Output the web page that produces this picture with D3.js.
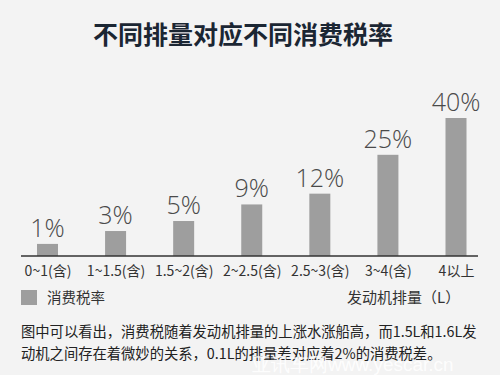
<!DOCTYPE html>
<html>
<head>
<meta charset="utf-8">
<script src="https://cdn.jsdelivr.net/npm/d3@7"></script>
<style>
  html, body { margin: 0; padding: 0; background: #f3f3f3; }
  svg { display: block; }
</style>
</head>
<body>
<div class="container"></div>
<script>
var categories = ['0~1(含)', '1~1.5(含)', '1.5~2(含)', '2~2.5(含)', '2.5~3(含)', '3~4(含)', '4以上'];
var rates = [1, 3, 5, 9, 12, 25, 40];
var title = '不同排量对应不同消费税率';
var legendName = '消费税率';
var xName = '发动机排量（L）';
var notes = ['图中可以看出，消费税随着发动机排量的上涨水涨船高，而1.5L和1.6L发',
             '动机之间存在着微妙的关系，0.1L的排量差对应着2%的消费税差。'];

var w = 500,
h = 375,
base = 256,
bar_w = 21;

var cjk = '"Noto Sans CJK SC", "Noto Sans", sans-serif';

var svg = d3.select('.container')
.append('svg')
.attr('width', w)
.attr('height', h);

svg.append('rect')
.attr('width', w)
.attr('height', h)
.style('fill', '#f3f3f3');

svg.append('text')
.attr('x', 243)
.attr('y', 44)
.attr('text-anchor', 'middle')
.style('font-family', cjk)
.style('font-weight', 'bold')
.style('font-size', '25px')
.style('fill', '#1b2633')
.text(title);

var xScale = d3.scalePoint()
.domain(categories)
.range([47.5, 456]);

// bar heights in the picture are not proportional, a pow scale fits them
var hScale = d3.scalePow()
.exponent(0.66)
.domain([0, 40])
.range([0, 138]);

svg.selectAll('rect.bar')
.data(rates)
.enter()
.append('rect')
.attr('class', 'bar')
.attr('x', (d, i) => xScale(categories[i]) - bar_w / 2)
.attr('y', d => base - hScale(d))
.attr('width', bar_w)
.attr('height', d => hScale(d))
.style('fill', '#9e9e9e');

svg.selectAll('text.val')
.data(rates)
.enter()
.append('text')
.attr('class', 'val')
.attr('x', (d, i) => xScale(categories[i]))
.attr('y', d => base - hScale(d) - 7)
.attr('text-anchor', 'middle')
.style('font-family', '"Open Sans", sans-serif')
.style('font-weight', 300)
.style('font-size', '25px')
.style('fill', '#4a4a4a')
.text(d => d + '%');

svg.append('line')
.attr('x1', 21)
.attr('x2', 478)
.attr('y1', base)
.attr('y2', base)
.style('stroke', '#333')
.style('stroke-width', 1.3);

var xAxis = d3.axisBottom(xScale)
.tickSize(0)
.tickPadding(10);

var xAxisGroup = svg.append('g')
.attr('transform', 'translate(0,' + base + ')')
.call(xAxis);

xAxisGroup.select('.domain').remove();
xAxisGroup.selectAll('text')
.style('font-family', cjk)
.style('font-size', '14px')
.style('fill', '#333');

svg.append('rect')
.attr('x', 21)
.attr('y', 290)
.attr('width', 16)
.attr('height', 15)
.style('fill', '#9e9e9e');

svg.append('text')
.attr('x', 47)
.attr('y', 303)
.style('font-family', cjk)
.style('font-size', '14.5px')
.style('fill', '#333')
.text(legendName);

svg.append('text')
.attr('x', 347)
.attr('y', 303)
.style('font-family', cjk)
.style('font-size', '15px')
.style('fill', '#333')
.text(xName);

svg.selectAll('text.note')
.data(notes)
.enter()
.append('text')
.attr('class', 'note')
.attr('x', 21)
.attr('y', (d, i) => 337 + i * 21.5)
.style('font-family', cjk)
.style('font-size', '14.3px')
.style('fill', '#222')
.text(d => d);

// faint watermark, it sits over the caption in the original too
svg.append('text')
.attr('x', 252)
.attr('y', 371)
.style('font-family', '"Liberation Sans", Arial, sans-serif')
.style('font-size', '19px')
.style('fill', '#ffffff')
.style('opacity', 0.9)
.text('亚讯车网www.yescar.cn');
</script>
</body>
</html>
